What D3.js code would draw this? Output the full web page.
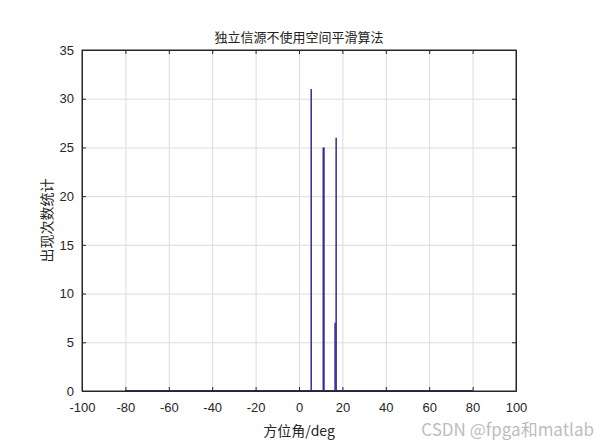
<!DOCTYPE html>
<html lang="zh">
<head>
<meta charset="utf-8"/>
<title>独立信源不使用空间平滑算法</title>
<script src="https://d3js.org/d3.v7.min.js"></script>
<style>
  body { margin: 0; background: #fff; }
  .tick text { font-family: "Liberation Sans", Arial, sans-serif; font-size: 13px; fill: #262626; }
  .grid line { stroke: #dcdcdc; }
  .grid .domain { display: none; }
</style>
</head>
<body>
<div id="chart"></div>
<script>
// histogram of estimated DOA
var angles = [5.6, 11.3, 16.6, 17.1];
var counts = [31, 25, 7, 26];
var binRange = [-80, 80];
var xTicks = [-100, -80, -60, -40, -20, 0, 20, 40, 60, 80, 100];
var yTicks = [0, 5, 10, 15, 20, 25, 30, 35];

var width = 609, height = 442;
var margin = {top: 50, right: 93, bottom: 51, left: 82};
var w = width - margin.left - margin.right,
    h = height - margin.top - margin.bottom;

var svg = d3.select("#chart").append("svg")
    .attr("width", width)
    .attr("height", height);

var g = svg.append("g")
    .attr("transform", "translate(" + margin.left + "," + margin.top + ")");

var x = d3.scaleLinear().domain([-100, 100]).range([0, w]);
var y = d3.scaleLinear().domain([0, 35]).range([h, 0]);
var plain = function(d) { return String(d); };

// grid
g.append("g").attr("class", "grid")
    .attr("transform", "translate(0," + h + ")")
    .call(d3.axisBottom(x).tickValues(xTicks).tickSize(-h).tickFormat(""));
g.append("g").attr("class", "grid")
    .call(d3.axisLeft(y).tickValues(yTicks).tickSize(-w).tickFormat(""));

var barColor = "#352a98";

// baseline of the histogram
g.append("line")
    .attr("x1", x(binRange[0]))
    .attr("x2", x(binRange[1]))
    .attr("y1", y(0) - 0.5)
    .attr("y2", y(0) - 0.5)
    .attr("stroke", barColor)
    .attr("stroke-width", 1.2);

var bars = angles.map(function(a, i) { return {a: a, c: counts[i]}; });
g.selectAll("rect.bar")
    .data(bars)
    .enter().append("rect")
    .attr("class", "bar")
    .attr("x", function(d, i) { return x(d.a) - (i == 1 ? 1 : 0.7); })
    .attr("width", function(d, i) { return i == 1 ? 2.2 : 1.5; })
    .attr("y", function(d) { return y(d.c); })
    .attr("height", function(d) { return y(0) - y(d.c); })
    .attr("fill", barColor);

// axes with inward ticks
g.append("g")
    .attr("transform", "translate(0," + h + ")")
    .call(d3.axisBottom(x).tickValues(xTicks).tickSizeInner(-4).tickSizeOuter(0).tickPadding(12).tickFormat(plain));
g.append("g")
    .call(d3.axisLeft(y).tickValues(yTicks).tickSizeInner(-4).tickSizeOuter(0).tickPadding(8).tickFormat(plain));
g.append("g")
    .call(d3.axisTop(x).tickValues(xTicks).tickSizeInner(-4).tickSizeOuter(0).tickFormat(""));
g.append("g")
    .attr("transform", "translate(" + w + ",0)")
    .call(d3.axisRight(y).tickValues(yTicks).tickSizeInner(-4).tickSizeOuter(0).tickFormat(""));
g.selectAll(".domain, .tick line").filter(function() { return !this.closest(".grid"); })
    .attr("stroke", "#262626");

// box
g.append("rect")
    .attr("width", w).attr("height", h)
    .attr("fill", "none")
    .attr("stroke", "#262626")
    .attr("stroke-width", 1);

// labels
svg.append("text")
    .attr("x", margin.left + w / 2)
    .attr("y", 42)
    .attr("text-anchor", "middle")
    .attr("font-family", "Noto Sans CJK SC")
    .attr("font-size", 13)
    .attr("fill", "#222")
    .text("独立信源不使用空间平滑算法");

svg.append("text")
    .attr("x", margin.left + w / 2)
    .attr("y", 436)
    .attr("text-anchor", "middle")
    .attr("font-family", "Noto Sans CJK SC")
    .attr("font-size", 14)
    .attr("fill", "#262626")
    .text("方位角/deg");

svg.append("text")
    .attr("transform", "translate(52," + (margin.top + h / 2) + ") rotate(-90)")
    .attr("text-anchor", "middle")
    .attr("font-family", "Noto Sans CJK SC")
    .attr("font-size", 14)
    .attr("fill", "#262626")
    .text("出现次数统计");

svg.append("text")
    .attr("x", 594)
    .attr("y", 436)
    .attr("text-anchor", "end")
    .attr("font-family", "Noto Sans CJK SC")
    .attr("font-size", 17)
    .attr("fill", "#bdbdbd")
    .text("CSDN @fpga和matlab");
</script>
</body>
</html>
